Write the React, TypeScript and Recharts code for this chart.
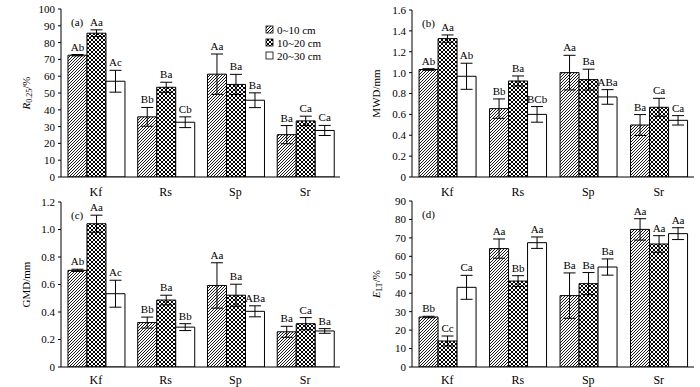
import React from 'react';
import { BarChart, Bar, XAxis, YAxis, ErrorBar, LabelList } from 'recharts';

const FONT = 'Liberation Serif, Times New Roman, Times, serif';

const categories = ['Kf', 'Rs', 'Sp', 'Sr'];
const depthNames = ['0~10 cm', '10~20 cm', '20~30 cm'];
const boundaryTicks = [1, 2, 3];

// (a) R0.25 (%)
const r025Depth1 = [72.5, 35.8, 61.2, 25.2];
const r025Depth1Err = [0.4, 5.6, 12.0, 5.4];
const r025Depth2 = [85.6, 53.4, 55.1, 33.4];
const r025Depth2Err = [2.0, 3.0, 6.0, 2.8];
const r025Depth3 = [57.0, 32.6, 45.7, 27.7];
const r025Depth3Err = [6.5, 3.2, 4.4, 3.0];
const r025Letters1 = ['Ab', 'Bb', 'Aa', 'Ba'];
const r025Letters2 = ['Aa', 'Ba', 'Ba', 'Ca'];
const r025Letters3 = ['Ac', 'Cb', 'Ba', 'Ca'];
const r025Ticks = [0, 10, 20, 30, 40, 50, 60, 70, 80, 90, 100];

// (b) MWD (mm)
const mwdDepth1 = [1.03, 0.655, 1.0, 0.498];
const mwdDepth1Err = [0.008, 0.093, 0.166, 0.1];
const mwdDepth2 = [1.326, 0.92, 0.933, 0.668];
const mwdDepth2Err = [0.035, 0.048, 0.1, 0.086];
const mwdDepth3 = [0.965, 0.6, 0.767, 0.543];
const mwdDepth3Err = [0.125, 0.075, 0.07, 0.045];
const mwdLetters1 = ['Ab', 'Bb', 'Aa', 'Ba'];
const mwdLetters2 = ['Aa', 'Ba', 'Ba', 'Ca'];
const mwdLetters3 = ['Ab', 'BCb', 'ABa', 'Ca'];
const mwdTicks = [0, 0.2, 0.4, 0.6, 0.8, 1.0, 1.2, 1.4, 1.6];

// (c) GMD (mm)
const gmdDepth1 = [0.703, 0.323, 0.593, 0.256];
const gmdDepth1Err = [0.008, 0.04, 0.165, 0.04];
const gmdDepth2 = [1.042, 0.487, 0.522, 0.315];
const gmdDepth2Err = [0.062, 0.035, 0.08, 0.044];
const gmdDepth3 = [0.533, 0.29, 0.405, 0.262];
const gmdDepth3Err = [0.098, 0.025, 0.04, 0.017];
const gmdLetters1 = ['Ab', 'Bb', 'Aa', 'Ba'];
const gmdLetters2 = ['Aa', 'Ba', 'Ba', 'Ca'];
const gmdLetters3 = ['Ac', 'Bb', 'ABa', 'Ba'];
const gmdTicks = [0, 0.2, 0.4, 0.6, 0.8, 1.0, 1.2];

// (d) ELT (%)
const eltDepth1 = [27.1, 64.2, 38.7, 74.6];
const eltDepth1Err = [0.4, 5.2, 12.3, 5.8];
const eltDepth2 = [14.1, 46.6, 45.2, 66.7];
const eltDepth2Err = [2.7, 2.9, 6.0, 4.5];
const eltDepth3 = [43.2, 67.4, 54.2, 72.3];
const eltDepth3Err = [6.5, 3.1, 4.4, 3.2];
const eltLetters1 = ['Bb', 'Aa', 'Ba', 'Aa'];
const eltLetters2 = ['Cc', 'Bb', 'Ba', 'Aa'];
const eltLetters3 = ['Ca', 'Aa', 'Ba', 'Aa'];
const eltTicks = [0, 10, 20, 30, 40, 50, 60, 70, 80, 90];

type Row = { [k: string]: any };

function buildRows(
  v1: number[], e1: number[], l1: string[],
  v2: number[], e2: number[], l2: string[],
  v3: number[], e3: number[], l3: string[]
): Row[] {
  return categories.map((name, i) => ({
    name,
    v1: v1[i], e1: e1[i], l1: l1[i],
    v2: v2[i], e2: e2[i], l2: l2[i],
    v3: v3[i], e3: e3[i], l3: l3[i],
  }));
}

const makeLabel = (rows: Row[], vk: string, ek: string) => (p: any) => {
  const { x, y, width, height, index, value } = p;
  const row = rows[index];
  if (!row) return null;
  const scale = Number(height) / row[vk];
  const top = Number(y) - row[ek] * scale;
  return (
    <text
      x={Number(x) + Number(width) / 2}
      y={top - 4}
      textAnchor="middle"
      fontSize={11}
      fontFamily={FONT}
      fill="#000"
    >
      {value}
    </text>
  );
};

const fmtDec = (v: number) => (v === 0 ? '0' : v.toFixed(1));
const fmtInt = (v: number) => String(v);

function Patterns({ id }: { id: string }) {
  return (
    <defs>
      <pattern id={`hatch-${id}`} patternUnits="userSpaceOnUse" width="3" height="3">
        <rect width="3" height="3" fill="#fff" />
        <path d="M-0.75,0.75 L0.75,-0.75 M0,3 L3,0 M2.25,3.75 L3.75,2.25" stroke="#000" strokeWidth="0.9" />
      </pattern>
      <pattern id={`cross-${id}`} patternUnits="userSpaceOnUse" width="4" height="4">
        <rect width="4" height="4" fill="#fff" />
        <path d="M0,0 L4,4 M4,0 L0,4" stroke="#000" strokeWidth="1.0" />
      </pattern>
    </defs>
  );
}

type PanelProps = {
  id: string;
  left: number;
  top: number;
  height: number;
  marginTop: number;
  marginRight: number;
  yWidth: number;
  xHeight: number;
  xTickMargin: number;
  rows: Row[];
  ticks: number[];
  fmt: (v: number) => string;
  letter: string;
  title: React.ReactNode;
  titleX: number;
  legend?: boolean;
};

function Panel(props: PanelProps) {
  const { id, left, top, height, marginTop, marginRight, yWidth, xHeight, xTickMargin, rows, ticks, fmt, letter, title, titleX, legend } = props;
  const max = ticks[ticks.length - 1];
  const plotTop = marginTop;
  const plotBottom = height - xHeight;
  const titleY = (plotTop + plotBottom) / 2;
  return (
    <div style={{ position: 'absolute', left, top, width: 350, height }}>
      <BarChart
        width={350}
        height={height}
        data={rows}
        margin={{ top: marginTop, right: marginRight, left: 0, bottom: 0 }}
        barCategoryGap="10%"
        barGap={0}
        style={{ fontFamily: FONT }}
      >
        <Patterns id={id} />
        <XAxis
          xAxisId="bound"
          type="number"
          domain={[0, 4]}
          ticks={boundaryTicks}
          height={0}
          tick={false}
          axisLine={false}
          mirror
          tickSize={3}
          tickLine={{ stroke: '#000' }}
        />
        <XAxis
          dataKey="name"
          height={xHeight}
          tickLine={false}
          tickSize={0}
          tickMargin={xTickMargin}
          axisLine={{ stroke: '#000' }}
          tick={{ fill: '#000', fontSize: 12, fontFamily: FONT }}
        />
        <XAxis xAxisId="top" dataKey="name" orientation="top" height={0} tick={false} tickLine={false} axisLine={{ stroke: '#000' }} />
        <YAxis
          width={yWidth}
          domain={[0, max]}
          ticks={ticks}
          tickFormatter={fmt}
          interval={0}
          tickSize={3}
          tickMargin={3}
          tickLine={{ stroke: '#000' }}
          axisLine={{ stroke: '#000' }}
          tick={{ fill: '#000', fontSize: 11, fontFamily: FONT }}
          allowDataOverflow
        />
        <YAxis yAxisId="r" orientation="right" width={0} tick={false} tickLine={false} axisLine={{ stroke: '#000' }} />
        <Bar dataKey="v1" fill={`url(#hatch-${id})`} stroke="#000" strokeWidth={1} isAnimationActive={false}>
          <ErrorBar dataKey="e1" width={6} stroke="#000" strokeWidth={1} />
          <LabelList dataKey="l1" content={makeLabel(rows, 'v1', 'e1')} />
        </Bar>
        <Bar dataKey="v2" fill={`url(#cross-${id})`} stroke="#000" strokeWidth={1} isAnimationActive={false}>
          <ErrorBar dataKey="e2" width={6} stroke="#000" strokeWidth={1} />
          <LabelList dataKey="l2" content={makeLabel(rows, 'v2', 'e2')} />
        </Bar>
        <Bar dataKey="v3" fill="#fff" stroke="#000" strokeWidth={1} isAnimationActive={false}>
          <ErrorBar dataKey="e3" width={6} stroke="#000" strokeWidth={1} />
          <LabelList dataKey="l3" content={makeLabel(rows, 'v3', 'e3')} />
        </Bar>
        <text x={yWidth + 10} y={plotTop + 17} fontSize={11} fontFamily={FONT} fill="#000">{letter}</text>
        <text
          x={titleX}
          y={titleY}
          transform={`rotate(-90, ${titleX}, ${titleY})`}
          textAnchor="middle"
          dominantBaseline="central"
          fontSize={11}
          fontFamily={FONT}
          fill="#000"
        >
          {title}
        </text>
        {legend &&
          depthNames.map((n, i) => (
            <g key={n}>
              <rect
                x={266}
                y={26 + i * 13}
                width={7}
                height={7}
                fill={i === 0 ? `url(#hatch-${id})` : i === 1 ? `url(#cross-${id})` : '#fff'}
                stroke="#000"
                strokeWidth={0.8}
              />
              <text x={277} y={33.5 + i * 13} fontSize={11} fontFamily={FONT} fill="#000">{n}</text>
            </g>
          ))}
      </BarChart>
    </div>
  );
}

const rowsA = buildRows(r025Depth1, r025Depth1Err, r025Letters1, r025Depth2, r025Depth2Err, r025Letters2, r025Depth3, r025Depth3Err, r025Letters3);
const rowsB = buildRows(mwdDepth1, mwdDepth1Err, mwdLetters1, mwdDepth2, mwdDepth2Err, mwdLetters2, mwdDepth3, mwdDepth3Err, mwdLetters3);
const rowsC = buildRows(gmdDepth1, gmdDepth1Err, gmdLetters1, gmdDepth2, gmdDepth2Err, gmdLetters2, gmdDepth3, gmdDepth3Err, gmdLetters3);
const rowsD = buildRows(eltDepth1, eltDepth1Err, eltLetters1, eltDepth2, eltDepth2Err, eltLetters2, eltDepth3, eltDepth3Err, eltLetters3);

const titleA = (
  <>
    <tspan fontStyle="italic">R</tspan>
    <tspan fontSize={8} dy={3}>0.25</tspan>
    <tspan dy={-3}>/%</tspan>
  </>
);
const titleD = (
  <>
    <tspan fontStyle="italic">E</tspan>
    <tspan fontSize={8} dy={3}>LT</tspan>
    <tspan dy={-3}>/%</tspan>
  </>
);

export default function App() {
  return (
    <div style={{ position: 'absolute', left: 0, top: 0, width: 700, height: 387, background: '#fff', overflow: 'hidden', fontFamily: FONT }}>
      <Panel id="a" left={0} top={0} height={200} marginTop={9} marginRight={10} yWidth={61} xHeight={23} xTickMargin={10}
        rows={rowsA} ticks={r025Ticks} fmt={fmtInt} letter="(a)" title={titleA} titleX={26} legend />
      <Panel id="b" left={350} top={0} height={200} marginTop={10} marginRight={6} yWidth={62} xHeight={23} xTickMargin={10}
        rows={rowsB} ticks={mwdTicks} fmt={fmtDec} letter="(b)" title="MWD/mm" titleX={26} />
      <Panel id="c" left={0} top={190} height={197} marginTop={12} marginRight={10} yWidth={61} xHeight={20} xTickMargin={8}
        rows={rowsC} ticks={gmdTicks} fmt={fmtDec} letter="(c)" title="GMD/mm" titleX={26} />
      <Panel id="d" left={350} top={190} height={197} marginTop={11} marginRight={6} yWidth={62} xHeight={20} xTickMargin={8}
        rows={rowsD} ticks={eltTicks} fmt={fmtInt} letter="(d)" title={titleD} titleX={26} />
    </div>
  );
}
